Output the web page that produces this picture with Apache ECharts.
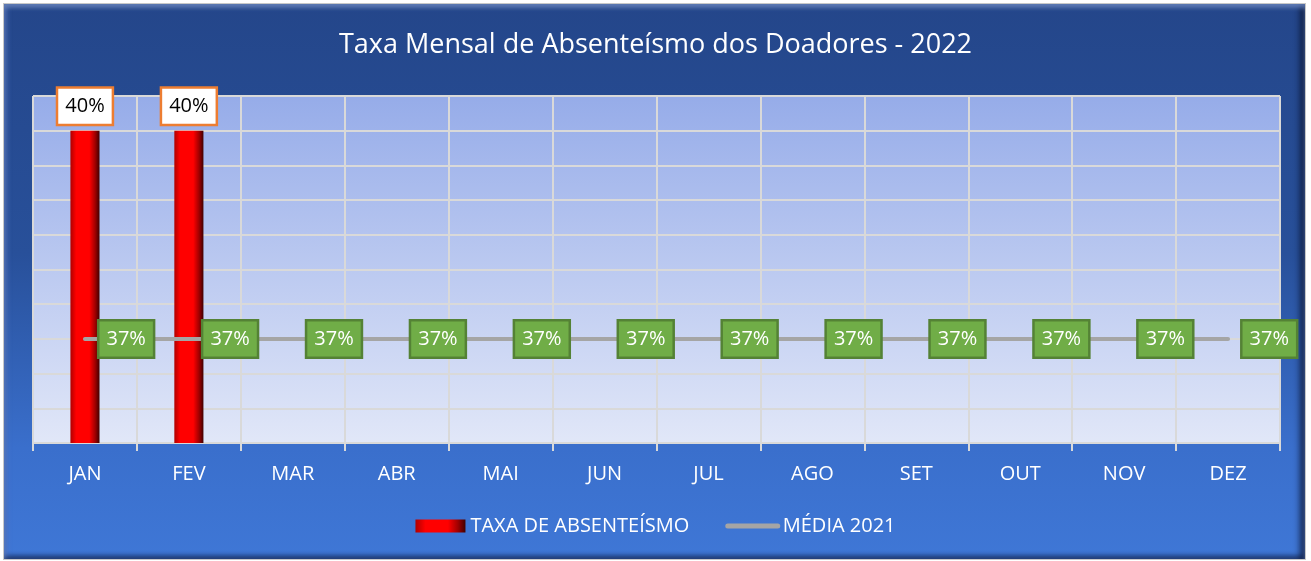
<!DOCTYPE html>
<html>
<head>
<meta charset="utf-8">
<script src="https://cdn.jsdelivr.net/npm/echarts@6/dist/echarts.min.js"></script>
<style>
  html, body { margin: 0; padding: 0; background: #ffffff; }
  #frame {
    position: absolute; left: 3px; top: 3px; width: 1301px; height: 555px;
    background: linear-gradient(to bottom, #24468a 0%, #28509a 45%, #3a6fcc 80%, #3f77d6 100%);
    border: 1px solid #c8c8c8;
    box-shadow: inset 0 4px 4px rgba(120,150,210,0.7), inset -5px 0 6px rgba(10,20,50,0.8), inset 4px 0 4px rgba(90,120,190,0.5), inset 0 -4px 4px rgba(20,40,90,0.5);
  }
  #chart { position: absolute; left: 0; top: 0; width: 1311px; height: 561px; }
</style>
</head>
<body>
<div id="frame"></div>
<div id="chart"></div>
<script>
// categorias e valores
const months = ['JAN', 'FEV', 'MAR', 'ABR', 'MAI', 'JUN', 'JUL', 'AGO', 'SET', 'OUT', 'NOV', 'DEZ'];
const taxaAbsenteismo = [40, 40, null, null, null, null, null, null, null, null, null, null];
const media2021 = [37, 37, 37, 37, 37, 37, 37, 37, 37, 37, 37, 37];

const font = '"Open Sans", "Noto Sans", sans-serif';

const barColor = {
  type: 'linear', x: 0, y: 0, x2: 1, y2: 0,
  colorStops: [
    { offset: 0, color: '#b00000' },
    { offset: 0.2, color: '#ff0000' },
    { offset: 0.65, color: '#ff0000' },
    { offset: 0.85, color: '#a00000' },
    { offset: 1, color: '#400000' }
  ]
};

const myChart = echarts.init(document.getElementById('chart'), null, { renderer: 'canvas' });
myChart.setOption({
  backgroundColor: 'transparent',
  animation: false,
  title: {
    text: 'Taxa Mensal de Absenteísmo dos Doadores - 2022',
    left: 'center',
    top: 27,
    textStyle: { color: '#ffffff', fontFamily: font, fontSize: 27, fontWeight: 'normal' }
  },
  legend: {
    bottom: 20,
    left: 'center',
    itemWidth: 50,
    itemHeight: 13,
    itemGap: 36,
    textStyle: { color: '#ffffff', fontFamily: font, fontSize: 20 },
    data: [
      { name: 'TAXA DE ABSENTEÍSMO', icon: 'rect' },
      { name: 'MÉDIA 2021', itemStyle: { opacity: 0 }, lineStyle: { width: 5, cap: 'round' } }
    ]
  },
  grid: {
    left: 33, right: 31, top: 96, bottom: 118,
    show: true,
    borderWidth: 0,
    backgroundColor: {
      type: 'linear', x: 0, y: 0, x2: 0, y2: 1,
      colorStops: [
        { offset: 0, color: '#96ace9' },
        { offset: 1, color: '#e1e7f8' }
      ]
    }
  },
  xAxis: {
    type: 'category',
    data: months,
    axisLine: { show: true, lineStyle: { color: '#d9d9d9', width: 2 } },
    axisTick: { show: true, length: 8, lineStyle: { color: '#d9d9d9', width: 2 } },
    splitLine: { show: true, lineStyle: { color: '#d9d9d9', width: 2 } },
    axisLabel: { color: '#ffffff', fontFamily: font, fontSize: 20, margin: 21 }
  },
  yAxis: {
    type: 'value',
    min: 35.5,
    max: 40.5,
    interval: 0.5,
    axisLabel: { show: false },
    axisLine: { show: false },
    axisTick: { show: false },
    splitLine: { show: true, lineStyle: { color: '#d9d9d9', width: 2 } }
  },
  series: [
    {
      name: 'TAXA DE ABSENTEÍSMO',
      type: 'bar',
      data: taxaAbsenteismo,
      barWidth: '28%',
      itemStyle: { color: barColor },
      label: {
        show: true,
        position: 'top',
        distance: 7,
        formatter: p => p.value + '%',
        color: '#000000',
        fontFamily: font,
        fontSize: 20,
        backgroundColor: '#ffffff',
        borderColor: '#ed7d31',
        borderWidth: 2.5,
        padding: [8, 7, 7, 7]
      }
    },
    {
      name: 'MÉDIA 2021',
      type: 'line',
      data: media2021,
      symbol: 'circle',
      symbolSize: 1,
      lineStyle: { color: '#a5a5a5', width: 4, cap: 'round' },
      itemStyle: { color: '#a5a5a5' },
      label: {
        show: true,
        position: 'right',
        distance: 14,
        formatter: p => p.value + '%',
        color: '#ffffff',
        fontFamily: font,
        fontSize: 20,
        backgroundColor: '#70ad47',
        borderColor: '#548235',
        borderWidth: 2.5,
        padding: [8, 7, 7, 7]
      },
      z: 3
    }
  ]
});
</script>
</body>
</html>
